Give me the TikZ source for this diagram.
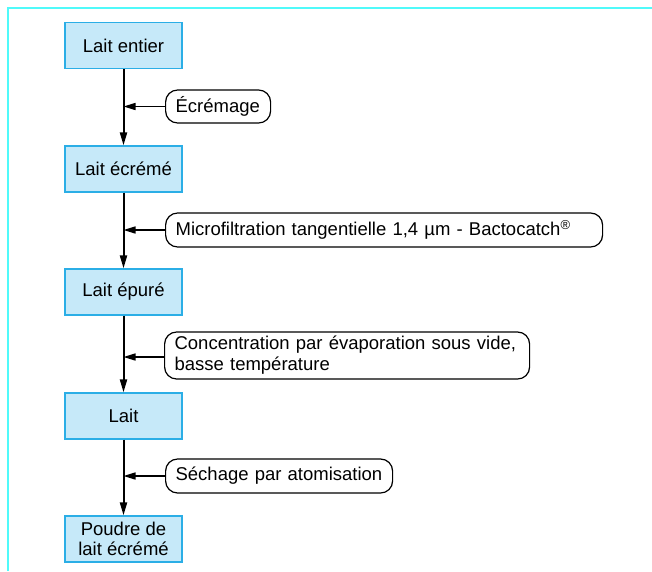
\documentclass[tikz,border=0pt]{standalone}
\usepackage{fontspec}
\setmainfont{Liberation Sans}
\usetikzlibrary{arrows.meta}
\definecolor{frameline}{HTML}{50FAFA}
\definecolor{stepfill}{HTML}{C6E9F9}
\definecolor{stepline}{HTML}{2BAEE6}
\tikzset{
  stepbox/.style={draw=stepline, fill=stepfill, line width=1.2pt,
    minimum width=117pt, minimum height=46pt, inner sep=0pt,
    align=center, font=\fontsize{18.5}{20}\selectfont},
  opbox/.style={draw=black, line width=1.2pt, rounded corners=12pt,
    anchor=west, inner xsep=10pt, inner ysep=0pt, align=left,
    font=\fontsize{18.5}{21}\selectfont},
  flow/.style={line width=2pt, -{Triangle[length=13pt,width=7pt]}},
  feed/.style={line width=1.5pt, -{Triangle[length=12pt,width=7pt]}},
}
\begin{document}
\begin{tikzpicture}[x=1pt,y=-1pt]
  \useasboundingbox (0,0) rectangle (652,571);
  % frame
  \draw[frameline, line width=2pt] (8,571) -- (8,8) -- (652,8);

  % product stages
  \node[stepbox] (s1) at (123.5,45.5) {Lait entier};
  \node[stepbox] (s2) at (123.5,169) {Lait écrémé};
  \node[stepbox] (s3) at (123.5,292) {Lait épuré};
  \node[stepbox] (s4) at (123.5,416) {Lait};
  \node[stepbox] (s5) at (123.5,539) {Poudre de\\lait écrémé};

  % operations
  \node[opbox, minimum height=33pt, text width=85pt] (o1) at (165,106.5)
    {\mbox{Écrémage}};
  \node[opbox, minimum height=34pt, text width=417pt] (o2) at (165,230)
    {\mbox{Microfiltration tangentielle 1,4 µm - Bactocatch\textsuperscript{®}}};
  \node[opbox, minimum height=47pt, text width=345pt] (o3) at (164,355.5)
    {\mbox{Concentration par évaporation sous vide,}\\\mbox{basse température}};
  \node[opbox, minimum height=34pt, text width=207pt] (o4) at (165,476)
    {\mbox{Séchage par atomisation}};

  % main flow
  \draw[flow] (s1) -- (s2);
  \draw[flow] (s2) -- (s3);
  \draw[flow] (s3) -- (s4);
  \draw[flow] (s4) -- (s5);

  % operations feeding the flow
  \draw[feed] (o1.west) -- (o1.west -| s1.south);
  \draw[feed] (o2.west) -- (o2.west -| s2.south);
  \draw[feed] ([yshift=-1.5pt]o3.west) -- ([yshift=-1.5pt]o3.west -| s3.south);
  \draw[feed] (o4.west) -- (o4.west -| s4.south);
\end{tikzpicture}
\end{document}
